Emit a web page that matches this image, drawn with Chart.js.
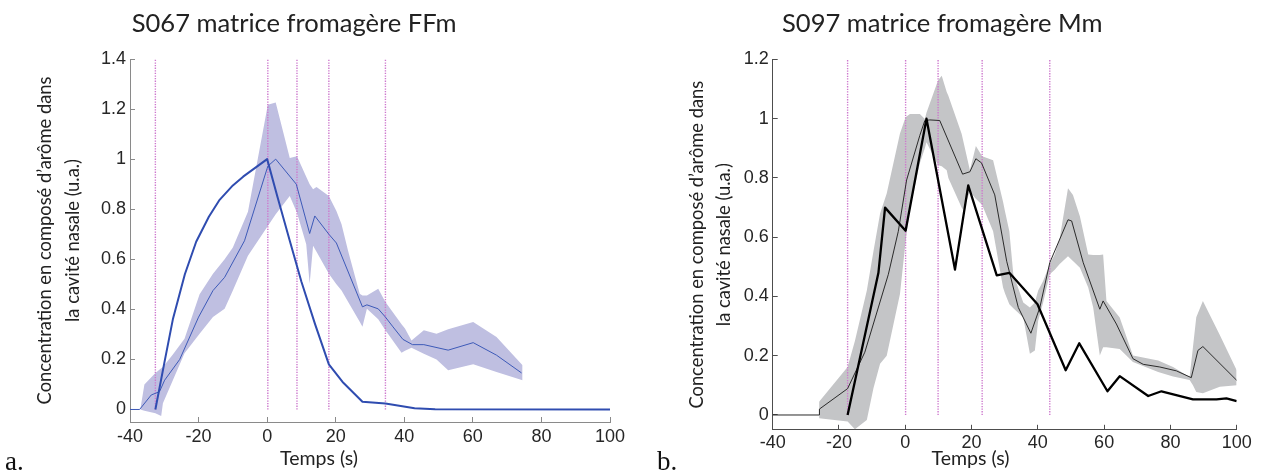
<!DOCTYPE html>
<html>
<head>
<meta charset="utf-8">
<script src="https://cdn.jsdelivr.net/npm/chart.js@4.4.1/dist/chart.umd.min.js"></script>
<style>
  html, body { margin:0; padding:0; background:#fff; }
  body { width:1262px; height:475px; position:relative; overflow:hidden; }
  canvas { position:absolute; top:0; }
</style>
</head>
<body>
<canvas id="cA" width="640" height="475" style="left:0px"></canvas>
<canvas id="cB" width="622" height="475" style="left:640px"></canvas>
<script>
// ---------------- DATA ----------------
const titleA = "S067 matrice fromagère FFm";
const titleB = "S097 matrice fromagère Mm";
const yTitleLines = ["Concentration en composé d\u2019arôme dans", "la cavité nasale (u.a.)"];
const xTitle = "Temps (s)";
const xTicks = [-40, -20, 0, 20, 40, 60, 80, 100];
const yTicksA = [0, 0.2, 0.4, 0.6, 0.8, 1, 1.2, 1.4];
const yTicksB = [0, 0.2, 0.4, 0.6, 0.8, 1, 1.2];

// Chart a (S067 FFm)
const aThickX = [-32.6, -30, -27.5, -24, -20.7, -17, -14, -10, -7, -4, 0, 3, 6.6, 10, 14, 18, 22, 27.8, 34.5, 43, 49, 100];
const aThickY = [0, 0.185, 0.36, 0.54, 0.67, 0.77, 0.835, 0.895, 0.93, 0.96, 1.0, 0.85, 0.674, 0.51, 0.34, 0.18, 0.11, 0.031, 0.024, 0.005, 0.001, 0];
const aMeanX = [-40, -37.2, -33.8, -31.4, -29.9, -25.5, -20, -15.8, -12.4, -6.6, 0.2, 2.5, 8.5, 12.4, 13.9, 18, 20.2, 27.8, 29.1, 32.4, 34.5, 36.7, 39.6, 42.4, 45.7, 52.8, 60.1, 66.9, 74.2];
const aMeanY = [0, 0, 0.058, 0.071, 0.117, 0.2, 0.369, 0.475, 0.528, 0.674, 0.972, 1.0, 0.9, 0.703, 0.773, 0.70, 0.665, 0.41, 0.418, 0.402, 0.369, 0.33, 0.28, 0.259, 0.259, 0.237, 0.267, 0.217, 0.146];
const aBandX = [-37, -35.8, -32.6, -30.9, -30.4, -27.5, -24.1, -19.7, -15.8, -12.4, -10, -5.6, 0.2, 2.5, 6.6, 8.7, 11.4, 12.4, 13.4, 14.4, 18, 20.2, 21.7, 23.6, 27, 27.8, 29.1, 32.4, 34.5, 39.2, 40.2, 42.1, 45.7, 49.4, 52.8, 60.1, 66.9, 74.5];
const aBandHi = [0, 0.10, 0.146, 0.165, 0.17, 0.22, 0.283, 0.46, 0.542, 0.60, 0.647, 0.79, 1.217, 1.226, 1.005, 1.012, 0.93, 0.90, 0.88, 0.889, 0.853, 0.793, 0.74, 0.634, 0.462, 0.455, 0.455, 0.482, 0.429, 0.34, 0.323, 0.276, 0.316, 0.303, 0.32, 0.349, 0.29, 0.177];
const aBandLo = [0, -0.005, -0.015, -0.026, 0.025, 0.117, 0.225, 0.303, 0.369, 0.402, 0.475, 0.614, 0.733, 0.78, 0.853, 0.786, 0.66, 0.502, 0.654, 0.63, 0.542, 0.50, 0.475, 0.43, 0.35, 0.33, 0.402, 0.36, 0.316, 0.227, 0.235, 0.247, 0.223, 0.20, 0.157, 0.181, 0.15, 0.117];
const aEvents = [-32.6, 0.2, 8.7, 18.0, 34.5];

// Chart b (S097 Mm)
const bThickX = [-17.4, -8.1, -6.1, 0.1, 6.4, 15, 19, 27.6, 31.4, 39.9, 48.4, 52.5, 61, 64.7, 73.3, 77.3, 86.8, 93.9, 96.9, 100];
const bThickY = [0, 0.48, 0.70, 0.622, 1.0, 0.491, 0.775, 0.471, 0.48, 0.374, 0.151, 0.242, 0.08, 0.131, 0.064, 0.08, 0.053, 0.053, 0.056, 0.047];
const bMeanX = [-40, -26, -25.9, -17.4, -12.2, -5.1, -2.1, 0.4, 4.4, 5.9, 7.4, 10.4, 17.3, 19.5, 21.3, 23, 27, 30.6, 34.1, 37.9, 40.6, 43.6, 49.1, 50.2, 53.7, 58.7, 59.7, 63.7, 68.7, 71.8, 76.8, 81.8, 86.3, 88.3, 89.8, 100];
const bMeanY = [0, 0, 0.02, 0.089, 0.212, 0.475, 0.62, 0.793, 0.944, 0.994, 0.996, 0.994, 0.813, 0.821, 0.865, 0.851, 0.743, 0.519, 0.363, 0.276, 0.363, 0.514, 0.659, 0.655, 0.514, 0.357, 0.385, 0.307, 0.19, 0.171, 0.162, 0.149, 0.126, 0.218, 0.231, 0.117];
const bBandX = [-26, -17.4, -15.2, -11.6, -9.6, -7.6, -5.6, -1.6, 0.1, 1.4, 4.4, 5.9, 6.4, 9.9, 11, 12.5, 13, 17, 17.5, 19.5, 21.3, 23.2, 26.5, 29.5, 30.1, 31.4, 32.6, 35.6, 37.6, 39.1, 40.1, 41.6, 43.6, 45.1, 46.6, 49.1, 50.6, 52.7, 55.2, 56.7, 58.7, 59.7, 60.7, 64.7, 68.7, 76.3, 80.8, 85.8, 86.8, 87.8, 89.8, 94.9, 100];
const bBandHi = [0.045, 0.162, 0.25, 0.42, 0.553, 0.68, 0.748, 0.95, 1.005, 1.016, 1.016, 0.999, 1.02, 1.13, 1.145, 1.09, 1.078, 0.949, 0.925, 0.826, 0.908, 0.873, 0.86, 0.72, 0.687, 0.62, 0.475, 0.38, 0.363, 0.38, 0.42, 0.452, 0.51, 0.542, 0.597, 0.765, 0.743, 0.67, 0.542, 0.54, 0.54, 0.542, 0.385, 0.329, 0.201, 0.184, 0.162, 0.128, 0.229, 0.33, 0.385, 0.27, 0.151];
const bBandLo = [-0.011, -0.022, -0.048, -0.017, 0.09, 0.173, 0.20, 0.408, 0.586, 0.698, 0.85, 0.90, 0.921, 0.843, 0.84, 0.826, 0.80, 0.70, 0.692, 0.754, 0.73, 0.709, 0.62, 0.43, 0.41, 0.374, 0.36, 0.329, 0.207, 0.218, 0.318, 0.38, 0.475, 0.49, 0.51, 0.536, 0.52, 0.497, 0.43, 0.363, 0.201, 0.229, 0.229, 0.223, 0.179, 0.145, 0.13, 0.118, 0.10, 0.078, 0.073, 0.095, 0.10];
const bEvents = [-17.4, 0.1, 9.9, 23.2, 43.6];

// ---------------- HELPERS ----------------
const HUM = "Lato, 'Open Sans', sans-serif";
const TICKFONT = "'Liberation Sans', Arial, sans-serif";
const mctx = document.createElement('canvas').getContext('2d');
function fitSize(text, family, width) {
  mctx.font = `100px ${family}`;
  return 100 * width / mctx.measureText(text).width;
}
function addLabel({text, family, size, x, cx, baseline, color}) {
  mctx.font = `${size}px ${family}`;
  const m = mctx.measureText(text);
  const A = m.fontBoundingBoxAscent, D = m.fontBoundingBoxDescent;
  const el = document.createElement('div');
  el.textContent = text;
  el.style.cssText = `position:absolute;white-space:nowrap;margin:0;padding:0;font-family:${family};font-size:${size}px;line-height:${A + D}px;color:${color}`;
  el.style.top = (baseline - A) + 'px';
  el.style.left = (cx !== undefined ? cx - m.width / 2 : x) + 'px';
  document.body.appendChild(el);
}
const pts = (xs, ys) => xs.map((x, i) => ({x, y: ys[i]}));

const titleSize = fitSize(titleA, HUM, 325);
const yTitleSize = fitSize(yTitleLines[0], HUM, 328);
const xTitleSize = fitSize(xTitle, HUM, 78);

function makeChart(id, cfg) {
  const datasets = [];
  // band (upper fills to lower)
  datasets.push({data: pts(cfg.bandX, cfg.bandHi), borderWidth: 0, pointRadius: 0, fill: 1,
                 backgroundColor: cfg.bandColor, order: 10});
  datasets.push({data: pts(cfg.bandX, cfg.bandLo), borderWidth: 0, pointRadius: 0, fill: false, order: 11});
  cfg.events.forEach(ev => {
    datasets.push({data: pts([ev, ev], [0, cfg.yMax]), borderColor: 'rgb(205,120,205)', borderWidth: 1.4,
                   borderDash: [1.3, 1.3], pointRadius: 0, fill: false, order: 5});
  });
  datasets.push({data: pts(cfg.meanX, cfg.meanY), borderColor: cfg.meanColor, borderWidth: 1,
                 pointRadius: 0, fill: false, order: 2});
  datasets.push({data: pts(cfg.thickX, cfg.thickY), borderColor: cfg.thickColor, borderWidth: cfg.thickWidth,
                 pointRadius: 0, fill: false, order: 1, borderJoinStyle: 'round'});

  return new Chart(document.getElementById(id), {
    type: 'line',
    data: {datasets},
    options: {
      responsive: false, animation: false, devicePixelRatio: 1, events: [],
      layout: {padding: cfg.padding},
      elements: {line: {tension: 0}},
      plugins: {legend: {display: false}, tooltip: {enabled: false}, title: {display: false}},
      scales: {
        x: {
          type: 'linear', min: -40, max: 100,
          afterBuildTicks: s => { s.ticks = xTicks.map(v => ({value: v})); },
          afterFit: s => { s.height = cfg.xHeight; },
          ticks: {font: {family: TICKFONT, size: 18}, color: '#262626', padding: cfg.xTickPad,
                  maxRotation: 0, autoSkip: false, callback: v => String(v)},
          grid: {drawOnChartArea: false, drawTicks: true, tickLength: -5, color: cfg.axisColor, tickColor: cfg.axisColor},
          border: {color: cfg.axisColor, width: 1}
        },
        y: {
          type: 'linear', min: -0.05, max: cfg.yMax,
          afterBuildTicks: s => { s.ticks = cfg.yTicks.map(v => ({value: v})); },
          afterFit: s => { s.width = cfg.yWidth; },
          ticks: {font: {family: TICKFONT, size: 18}, color: '#262626', padding: 9,
                  callback: v => String(Number(v.toFixed(1)))},
          grid: {drawOnChartArea: false, drawTicks: true, tickLength: -5, color: cfg.axisColor, tickColor: cfg.axisColor},
          border: {color: cfg.axisColor, width: 1},
          title: {display: true, text: yTitleLines, color: '#222',
                  font: {family: HUM, size: yTitleSize, lineHeight: cfg.yTitleLH / yTitleSize},
                  padding: {top: cfg.yTitlePad, bottom: 0}}
        }
      }
    }
  });
}

makeChart('cA', {
  bandX: aBandX, bandHi: aBandHi, bandLo: aBandLo, bandColor: 'rgb(191,191,225)',
  meanX: aMeanX, meanY: aMeanY, meanColor: '#3d5ab8',
  thickX: aThickX, thickY: aThickY, thickColor: '#2f4cb0', thickWidth: 2,
  events: aEvents, yMax: 1.4, yTicks: yTicksA,
  padding: {left: 0, right: 30, top: 59, bottom: 0},
  yWidth: 130, xHeight: 53, xTickPad: 9, yTitlePad: 30.8, yTitleLH: 28.5, axisColor: '#8a8a8a'
});
makeChart('cB', {
  bandX: bBandX, bandHi: bBandHi, bandLo: bBandLo, bandColor: 'rgb(196,197,199)',
  meanX: bMeanX, meanY: bMeanY, meanColor: '#2a2a2a',
  thickX: bThickX, thickY: bThickY, thickColor: '#000000', thickWidth: 2.3,
  events: bEvents, yMax: 1.2, yTicks: yTicksB,
  padding: {left: 0, right: 25.3, top: 59.5, bottom: 0},
  yWidth: 132.7, xHeight: 45.2, xTickPad: 7.2, yTitlePad: 44, yTitleLH: 27, axisColor: '#4d4d4d'
});

// Titles and other labels (real text)
addLabel({text: titleA, family: HUM, size: titleSize, x: 131.7, baseline: 31.7, color: '#222'});
addLabel({text: titleB, family: HUM, size: titleSize, x: 782, baseline: 31.7, color: '#222'});
addLabel({text: xTitle, family: HUM, size: xTitleSize, cx: 319, baseline: 464.5, color: '#222'});
addLabel({text: xTitle, family: HUM, size: xTitleSize, cx: 970.5, baseline: 464.5, color: '#222'});
addLabel({text: "a.", family: "'Liberation Serif', 'DejaVu Serif', serif", size: 27, x: 5, baseline: 470, color: '#111'});
addLabel({text: "b.", family: "'Liberation Serif', 'DejaVu Serif', serif", size: 27, x: 657, baseline: 470, color: '#111'});
</script>
</body>
</html>
